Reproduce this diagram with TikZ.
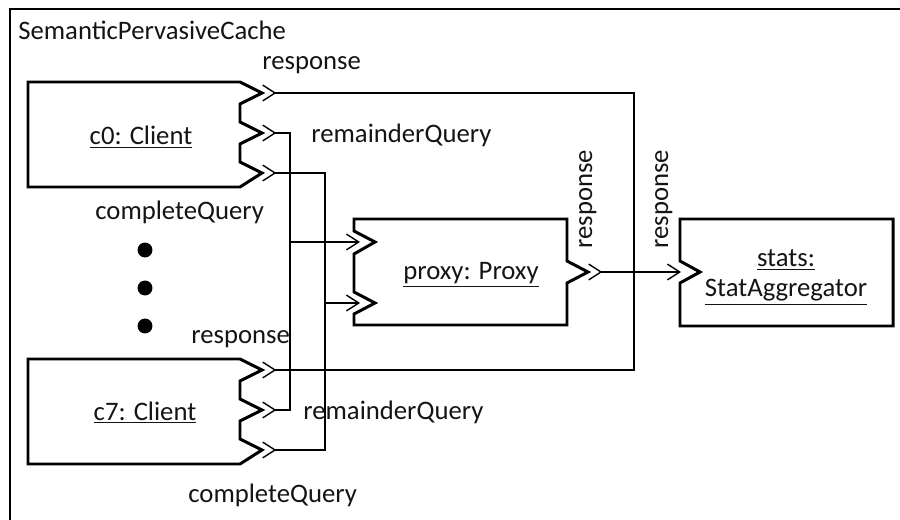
\documentclass[tikz,border=0pt]{standalone}
\usepackage{fontspec}
\setmainfont{Carlito}
\usetikzlibrary{arrows.meta}
\definecolor{inkblack}{RGB}{0,0,0}
\definecolor{textgray}{RGB}{20,20,20}

\begin{document}
\begin{tikzpicture}[
  x=0.02cm, y=-0.02cm,
  outchev/.tip={Straight Barb[reversed,length=7pt,width=9pt]},
  inchev/.tip={Straight Barb[length=7pt,width=9pt]},
  part/.style={draw=inkblack,line width=1.7pt,line join=miter},
  frame/.style={draw=inkblack,line width=1.7pt},
  link/.style={draw=inkblack,line width=0.8pt},
  lbl/.style={font=\fontsize{15.2}{18}\selectfont,text=textgray,inner sep=0pt},
  dot/.style={circle,fill=inkblack,minimum size=8.5pt,inner sep=0pt}
]
\useasboundingbox (0,0) rectangle (900,520);

%% ── Enclosing structure (right/bottom edges fall outside the page) ──
\draw[frame] (10,9) rectangle (930,550);
\node[lbl, anchor=base west] (title) at (18,40) {SemanticPervasiveCache};

%% ── Part outlines with port notches ──
% c0 : three output ports on the right side
\draw[part] (240,82) -- (28,82) -- (28,187) -- (240,187) -- (262,173) -- (240,162)
  -- (240,144) -- (262,133) -- (240,122) -- (240,104) -- (262,93) -- cycle;
% c7 : same shape, lower
\draw[part] (240,359) -- (28,359) -- (28,464) -- (240,464) -- (262,450) -- (240,439)
  -- (240,421) -- (262,410) -- (240,399) -- (240,381) -- (262,370) -- cycle;
% proxy : two inputs left, one output right
\draw[part] (354,219) -- (567,219) -- (567,261) -- (588,272) -- (567,283) -- (567,325)
  -- (354,325) -- (354,314) -- (375,303) -- (354,292) -- (354,254) -- (375,242)
  -- (354,231) -- cycle;
% stats : one input left
\draw[part] (680,219) -- (893,219) -- (893,326) -- (680,326) -- (680,283) -- (700,272)
  -- (680,261) -- cycle;

%% ── Part names ──
\node[lbl, anchor=base] (c0name) at (141,145) {\underline{c0: Client}};
\node[lbl, anchor=base] (c7name) at (145,420) {\underline{c7: Client}};
\node[lbl, anchor=base] (pxname) at (471,280) {\underline{proxy: Proxy}};
\node[lbl, anchor=base] (stname) at (786,267) {\underline{stats:}};
\node[lbl, anchor=base] (sttype) at (786,297) {\underline{StatAggregator}};

%% ── Elision dots between c0 and c7 ──
\node[dot] (dot1) at (145,250) {};
\node[dot] (dot2) at (145,288) {};
\node[dot] (dot3) at (145,326) {};

%% ── Port anchors ──
\coordinate (c0resp) at (262,93);
\coordinate (c0rem)  at (262,133);
\coordinate (c0cq)   at (262,173);
\coordinate (c7resp) at (262,370);
\coordinate (c7rem)  at (262,410);
\coordinate (c7cq)   at (262,450);
\coordinate (pxIn1)  at (360,242);
\coordinate (pxIn2)  at (360,303);
\coordinate (pxOut)  at (588,272);
\coordinate (stIn)   at (681,272);
% bus bends
\coordinate (respBus) at (634,230);
\coordinate (remBus)  at (290,242);
\coordinate (cqBus)   at (325,303);

%% ── Connectors ──
\draw[link, outchev-outchev] (c0resp) -| (respBus) |- (c7resp);
\draw[link, outchev-outchev] (c0rem)  -| (remBus)  |- (c7rem);
\draw[link, outchev-outchev] (c0cq)   -| (cqBus)   |- (c7cq);
\draw[link, -inchev] (remBus) -- (pxIn1);
\draw[link, -inchev] (cqBus)  -- (pxIn2);
\draw[link, outchev-inchev] (pxOut) -- (stIn);

%% ── Port labels ──
\node[lbl, anchor=base west] (c0respL) at (262,70)  {response};
\node[lbl, anchor=base west] (c0remL)  at (311,143) {remainderQuery};
\node[lbl, anchor=base west] (c0cqL)   at (95,220)  {completeQuery};
\node[lbl, anchor=base west] (c7respL) at (191,344) {response};
\node[lbl, anchor=base west] (c7remL)  at (303,419) {remainderQuery};
\node[lbl, anchor=base west] (c7cqL)   at (188,502) {completeQuery};
\node[lbl, anchor=base, rotate=90] (pxrespL) at (592,199) {response};
\node[lbl, anchor=base, rotate=90] (strespL) at (668,199) {response};

\end{tikzpicture}
\end{document}
